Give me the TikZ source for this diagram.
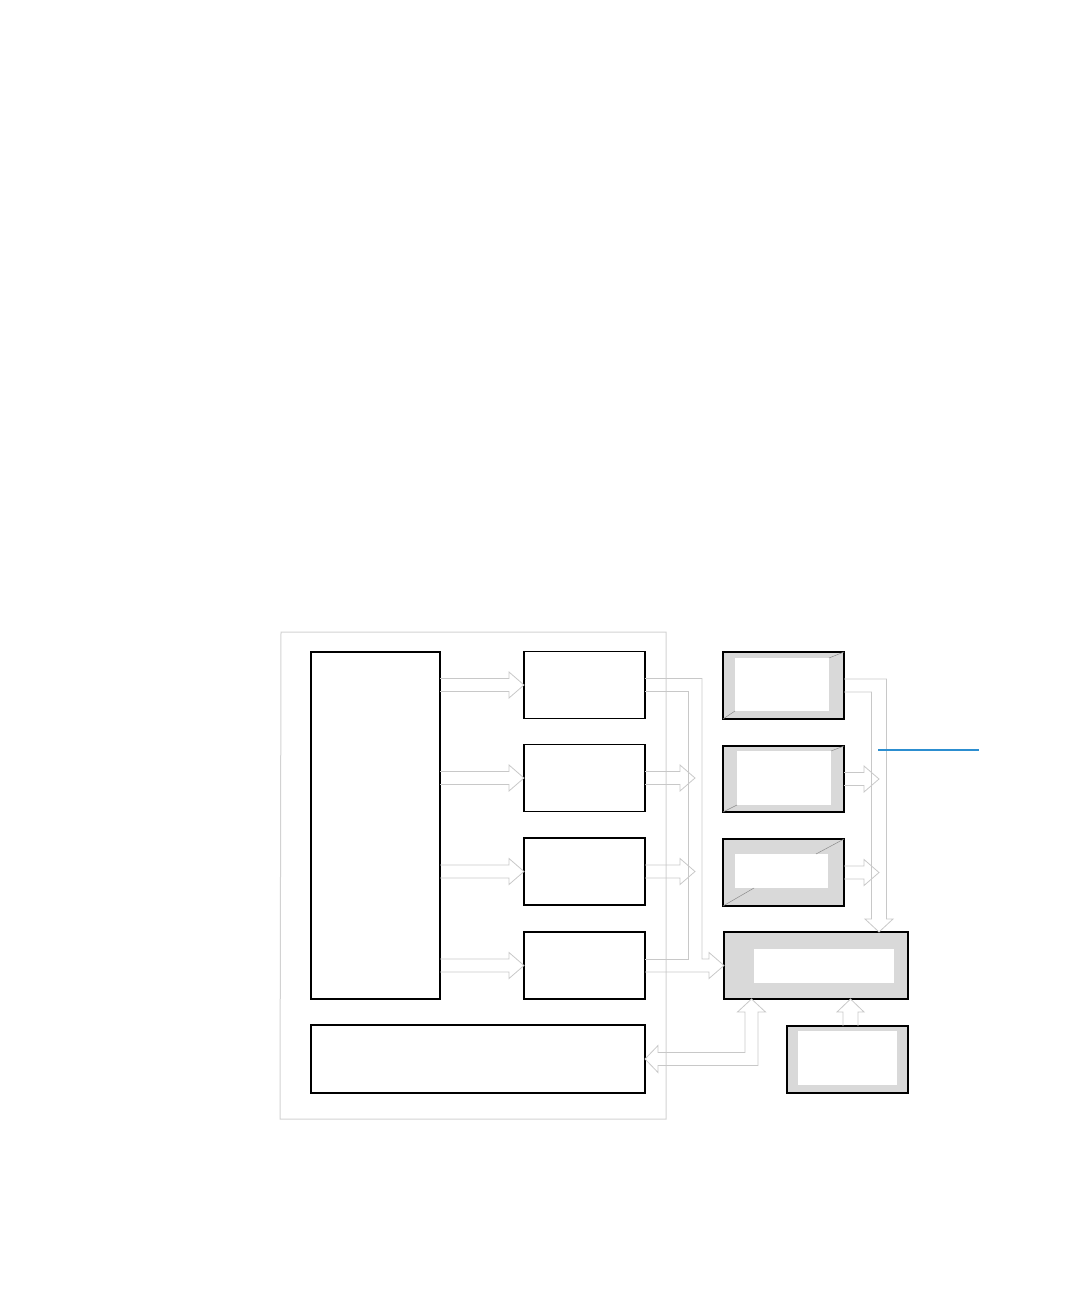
\documentclass[tikz,border=0pt]{standalone}
\usepackage{amsmath}
\usepackage{xcolor}
\tikzset{>=latex}
\usetikzlibrary{calc}
\definecolor{boxgray}{RGB}{217,217,217}
\definecolor{pipegray}{RGB}{200,200,200}
\definecolor{leadblue}{RGB}{44,142,208}

\tikzset{
	unit/.style={draw=black, line width=1.2pt, inner sep=0pt, outer sep=0pt},
	shaded/.style={unit, fill=boxgray},
	window/.style={fill=white, inner sep=0pt, outer sep=0pt},
	pipe/.style={draw=pipegray, line width=0.8pt},
	bevel/.style={draw=gray!90, line width=0.5pt},
	frame/.style={draw=gray!35, line width=1pt},
	leader/.style={draw=leadblue, line width=2pt},
}

% block arrow pointing right, ending at #2
\newcommand{\rpipe}[2]{\draw[pipe] let \p1=(#1), \p2=(#2) in (\x1,\y2+6.5pt) -- (\x2-15pt,\y2+6.5pt) -- (\x2-15pt,\y2+13pt) -- (\p2)
	-- (\x2-15pt,\y2-13pt) -- (\x2-15pt,\y2-6.5pt) -- (\x1,\y2-6.5pt);}
% block arrow pointing up, ending at #2
\newcommand{\upipe}[2]{\draw[pipe] let \p1=(#1), \p2=(#2) in (\x2-7.5pt,\y1) -- (\x2-7.5pt,\y2-13pt) -- (\x2-13.5pt,\y2-13pt) -- (\p2)
	-- (\x2+13.5pt,\y2-13pt) -- (\x2+7.5pt,\y2-13pt) -- (\x2+7.5pt,\y1);}

\begin{document}
\begin{tikzpicture}[x=1pt,y=-1pt]
	\useasboundingbox (0,0) rectangle (1078,1296);

	\draw[frame] (281,632) -- (666,632) -- (666,1119) -- (280,1119) -- cycle;

	% left column
	\node[unit, minimum width=129pt, minimum height=347pt] (host) at (375.5,825.5) {};
	\node[unit, minimum width=121pt, minimum height=67pt] (ch1) at (584.5,685) {};
	\node[unit, minimum width=121pt, minimum height=67pt] (ch2) at (584.5,778) {};
	\node[unit, minimum width=121pt, minimum height=67pt] (ch3) at (584.5,871.5) {};
	\node[unit, minimum width=121pt, minimum height=67pt] (ch4) at (584.5,965.5) {};
	\node[unit, minimum width=334pt, minimum height=68pt] (link) at (478,1059) {};

	% shaded column
	\node[shaded, minimum width=121pt, minimum height=67pt] (sensA) at (783.5,685.5) {};
	\node[window, minimum width=94pt, minimum height=53pt] (winA) at (782,684.5) {};
	\node[shaded, minimum width=121pt, minimum height=66pt] (sensB) at (783.5,779) {};
	\node[window, minimum width=94pt, minimum height=54pt] (winB) at (784,778) {};
	\node[shaded, minimum width=121pt, minimum height=67pt] (sensC) at (783.5,872.5) {};
	\node[window, minimum width=93pt, minimum height=34pt] (winC) at (781.5,871) {};
	\node[shaded, minimum width=184pt, minimum height=67pt] (hub) at (816,965.5) {};
	\node[window, minimum width=140pt, minimum height=34pt] (winD) at (824,966) {};
	\node[shaded, minimum width=121pt, minimum height=67pt] (aux) at (847.5,1059.5) {};
	\node[window, minimum width=99pt, minimum height=54pt] (winE) at (847.5,1058) {};

	\draw[bevel] (sensA.north east) -- (winA.north east);
	\draw[bevel] (sensA.south west) -- (winA.south west);
	\draw[bevel] (sensB.north east) -- (winB.north east);
	\draw[bevel] (sensB.south west) -- (winB.south west);
	\draw[bevel] (sensC.north east) -- ([xshift=-12pt]winC.north east);
	\draw[bevel] (sensC.south west) -- ([xshift=19pt]winC.south west);

	\coordinate (t2) at (695,778);
	\coordinate (t3) at (695,871.5);
	\coordinate (drop) at (879,932);
	\coordinate (rise) at (751.5,999);
	\coordinate (rise2) at (850.5,999);
	\coordinate (tap) at (878,750);
	\coordinate (callout) at (979,750);

	\rpipe{host.east}{ch1.west}
	\rpipe{host.east}{ch2.west}
	\rpipe{host.east}{ch3.west}
	\rpipe{host.east}{ch4.west}
	\rpipe{ch2.east}{t2}
	\rpipe{ch3.east}{t3}

	% bus from ch1 joining the ch4 arrow
	\draw[pipe] let \p1=(ch1.east), \p2=(hub.west), \p3=(t2) in
		(\x1,\y1+6.5pt) -- (\x3+7pt,\y1+6.5pt) -- (\x3+7pt,\y2+6.5pt) -- (\x2-15pt,\y2+6.5pt) -- (\x2-15pt,\y2+13pt) -- (\p2)
		-- (\x2-15pt,\y2-13pt) -- (\x2-15pt,\y2-6.5pt) -- (\x1,\y2-6.5pt);
	\draw[pipe] let \p1=(ch1.east), \p2=(hub.west), \p3=(t2) in
		(\x1,\y1-6.5pt) -- (\x3-7pt,\y1-6.5pt) -- (\x3-7pt,\y2+6.5pt) -- (\x1,\y2+6.5pt);

	% bus from sensA down to hub
	\draw[pipe] let \p1=(sensA.east), \p2=(drop) in
		(\x1,\y1+6.5pt) -- (\x2+7.5pt,\y1+6.5pt) -- (\x2+7.5pt,\y2+13pt) -- (\x2+14pt,\y2+13pt) -- (\p2)
		-- (\x2-14pt,\y2+13pt) -- (\x2-7.5pt,\y2+13pt) -- (\x2-7.5pt,\y1-6.5pt) -- (\x1,\y1-6.5pt);
	\rpipe{sensB.east}{sensB.east -| drop}
	\rpipe{sensC.east}{sensC.east -| drop}

	% two way bus between hub and link
	\draw[pipe] let \p1=(link.east), \p2=(rise) in
		(\p1) -- (\x1+13pt,\y1+13.5pt) -- (\x1+13pt,\y1+6.5pt) -- (\x2-6.5pt,\y1+6.5pt) -- (\x2-6.5pt,\y2-13pt) -- (\x2-14pt,\y2-13pt) -- (\p2)
		-- (\x2+14pt,\y2-13pt) -- (\x2+6.5pt,\y2-13pt) -- (\x2+6.5pt,\y1-6.5pt) -- (\x1+13pt,\y1-6.5pt) -- (\x1+13pt,\y1-13.5pt) -- cycle;
	\upipe{aux.north}{rise2}

	\draw[leader] (tap) -- (callout);
\end{tikzpicture}
\end{document}
